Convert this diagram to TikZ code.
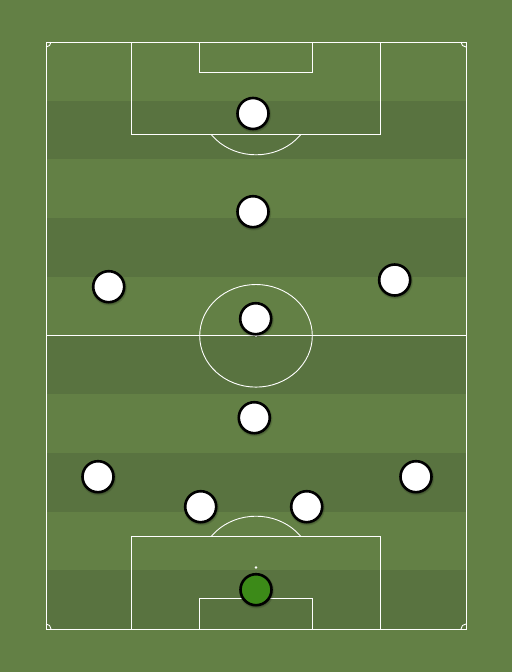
\documentclass[tikz,border=0pt]{standalone}
\definecolor{bggreen}{RGB}{99,128,69}
\definecolor{stripe}{RGB}{89,115,64}
\definecolor{gkgreen}{RGB}{60,138,24}
\tikzset{
  pitchline/.style={draw=white, line width=0.9pt},
  player/.style={circle, draw=black, line width=2.6pt, fill=white, minimum size=31pt, inner sep=0pt},
  keeper/.style={player, fill=gkgreen},
}
\newcommand{\shadowdot}[2]{%
  \fill[black, opacity=0.12] (#1+0.6,#2+1.2) circle (17.6pt);
  \fill[black, opacity=0.15] (#1+0.4,#2+0.9) circle (16.8pt);
}
\begin{document}
\begin{tikzpicture}[x=1pt,y=-1pt]
\fill[bggreen] (0,0) rectangle (512,672);
\useasboundingbox (0,0) rectangle (512,672);
% stripes
\foreach \i in {1,3,5,7,9} {
  \fill[stripe] (46,{42+\i*58.7}) rectangle (466,{42+(\i+1)*58.7});
}
% outline
\draw[pitchline] (46,42) rectangle (466,629);
\draw[pitchline] (46,335.8) -- (466,335.8);
\draw[pitchline] (256,335.8) ellipse [x radius=56.3, y radius=51.3];
\fill[white] (256,335.8) circle (1.2);
% top
\draw[pitchline] (131,42) rectangle (380.5,134.5);
\draw[pitchline] (199.5,42) rectangle (312.5,72.5);
\begin{scope}
  \clip (100,134.5) rectangle (420,200);
  \draw[pitchline] (256,103.5) ellipse [x radius=56.3, y radius=51.3];
\end{scope}
\fill[white] (256,103.5) circle (1.2);
% bottom
\draw[pitchline] (131,629) rectangle (380.5,536);
\draw[pitchline] (199.5,629) rectangle (312.5,598.5);
\begin{scope}
  \clip (100,536) rectangle (420,480);
  \draw[pitchline] (256,567.5) ellipse [x radius=56.3, y radius=51.3];
\end{scope}
\fill[white] (256,567.5) circle (1.3);
% corners
\draw[pitchline] (51,42) arc[start angle=0, end angle=90, radius=5];
\draw[pitchline] (461,42) arc[start angle=180, end angle=90, radius=5];
\draw[pitchline] (51,629) arc[start angle=0, end angle=-90, radius=5];
\draw[pitchline] (461,629) arc[start angle=180, end angle=270, radius=5];
% shadows
\foreach \x/\y in {253/113.5, 253/211.7, 108.7/286.7, 394.7/280, 255.7/318.7, 254.3/417.7, 98/476.7, 416/476.7, 200.7/506.7, 306.7/506.7, 256/589.7} {
  \shadowdot{\x}{\y}
}
% players
\node[player] (st) at (253,113.5) {};
\node[player] (am) at (253,211.7) {};
\node[player] (lm) at (108.7,286.7) {};
\node[player] (rm) at (394.7,280) {};
\node[player] (cm) at (255.7,318.7) {};
\node[player] (dm) at (254.3,417.7) {};
\node[player] (lb) at (98,476.7) {};
\node[player] (rb) at (416,476.7) {};
\node[player] (lcb) at (200.7,506.7) {};
\node[player] (rcb) at (306.7,506.7) {};
\node[keeper] (gk) at (256,589.7) {};
\end{tikzpicture}
\end{document}
